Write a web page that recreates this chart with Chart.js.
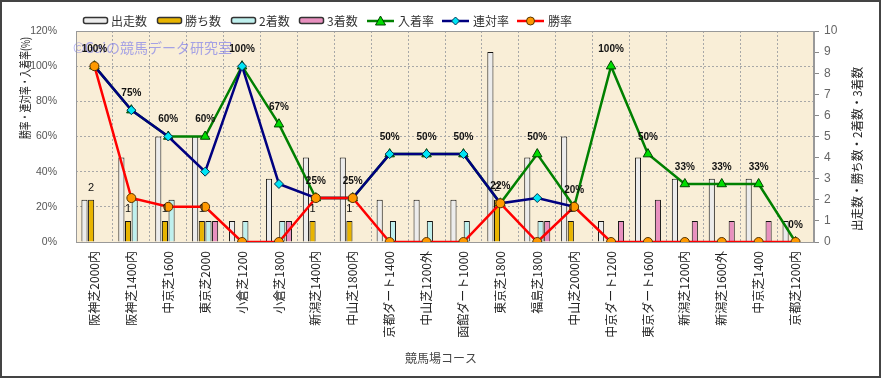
<!DOCTYPE html>
<html lang="ja">
<head>
<meta charset="utf-8">
<style>
  html, body { margin: 0; padding: 0; background: #fff; }
  canvas { display: block; }
</style>
<script src="https://cdn.jsdelivr.net/npm/chart.js@4/dist/chart.umd.min.js"></script>
</head>
<body>
<canvas id="chart" width="881" height="378"></canvas>
<script>
const courses = ['阪神芝2000内', '阪神芝1400内', '中京芝1600', '東京芝2000', '小倉芝1200', '小倉芝1800',
  '新潟芝1400内', '中山芝1800内', '京都ダート1400', '中山芝1200外', '函館ダート1000', '東京芝1800',
  '福島芝1800', '中山芝2000内', '中京ダート1200', '東京ダート1600', '新潟芝1200内', '新潟芝1600外',
  '中京芝1400', '京都芝1200内'];

const starts  = [2, 4, 5, 5, 1, 3, 4, 4, 2, 2, 2, 9, 4, 5, 1, 4, 3, 3, 3, 1];
const wins    = [2, 1, 1, 1, 0, 0, 1, 1, 0, 0, 0, 2, 0, 1, 0, 0, 0, 0, 0, 0];
const seconds = [0, 2, 2, 1, 1, 1, 0, 0, 1, 1, 1, 0, 1, 0, 0, 0, 0, 0, 0, 0];
const thirds  = [0, 0, 0, 1, 0, 1, 0, 0, 0, 0, 0, 0, 1, 0, 1, 2, 1, 1, 1, 0];

const placeRate = [100, 75, 60, 60, 100, 67, 25, 25, 50, 50, 50, 22, 50, 20, 100, 50, 33, 33, 33, 0];
const top2Rate  = [100, 75, 60, 40, 100, 33, 25, 25, 50, 50, 50, 22, 25, 20, null, null, null, null, null, null];
const winRate   = [100, 25, 20, 20, 0, 0, 25, 25, 0, 0, 0, 22, 0, 20, 0, 0, 0, 0, 0, 0];

const rateTicks = [0, 20, 40, 60, 80, 100, 120];
const countTicks = [0, 1, 2, 3, 4, 5, 6, 7, 8, 9, 10];

const JP = '"Noto Sans CJK JP", "Noto Sans", sans-serif';
const LAT = '"Liberation Sans", Arial, sans-serif';

const barStyle = {
  yAxisID: 'y1',
  borderColor: '#111',
  borderWidth: 1,
  categoryPercentage: 0.72,
  barPercentage: 0.92,
  order: 5
};

// draw a legend marker by hand
function marker(ctx, shape, x, y, fill, stroke) {
  ctx.beginPath();
  if (shape === 'triangle') {
    ctx.moveTo(x, y - 5);
    ctx.lineTo(x + 5, y + 4);
    ctx.lineTo(x - 5, y + 4);
    ctx.closePath();
  } else if (shape === 'diamond') {
    ctx.moveTo(x, y - 4);
    ctx.lineTo(x + 4, y);
    ctx.lineTo(x, y + 4);
    ctx.lineTo(x - 4, y);
    ctx.closePath();
  } else {
    ctx.arc(x, y, 4, 0, Math.PI * 2);
  }
  ctx.fillStyle = fill;
  ctx.fill();
  ctx.lineWidth = 1;
  ctx.strokeStyle = stroke;
  ctx.stroke();
}

const legendItems = [
  { kind: 'bar', x: 83, text: '出走数', fill: '#ececec' },
  { kind: 'bar', x: 157, text: '勝ち数', fill: '#e8b400' },
  { kind: 'bar', x: 231, text: '2着数', fill: '#bff0ee' },
  { kind: 'bar', x: 299, text: '3着数', fill: '#e890bf' },
  { kind: 'line', x: 367, text: '入着率', line: '#008000', shape: 'triangle', fill: '#00dd00', stroke: '#004400' },
  { kind: 'line', x: 442, text: '連対率', line: '#000080', shape: 'diamond', fill: '#00e5f5', stroke: '#003050' },
  { kind: 'line', x: 517, text: '勝率', line: '#ff0000', shape: 'circle', fill: '#ff9900', stroke: '#553300' }
];

function drawRotated(ctx, text, cx, cy, font, color, len) {
  ctx.save();
  ctx.font = font;
  ctx.fillStyle = color;
  ctx.textAlign = 'center';
  ctx.textBaseline = 'middle';
  ctx.translate(cx, cy);
  ctx.rotate(-Math.PI / 2);
  const w = ctx.measureText(text).width;
  if (len && w > len) ctx.scale(len / w, 1);
  ctx.fillText(text, 0, 0);
  ctx.restore();
}

const decor = {
  id: 'decor',
  beforeDraw(chart) {
    const { ctx, chartArea: a } = chart;
    ctx.save();
    ctx.fillStyle = '#fff';
    ctx.fillRect(0, 0, chart.width, chart.height);
    ctx.fillStyle = '#f9eed7';
    ctx.fillRect(a.left, a.top, a.right - a.left, a.bottom - a.top);
    ctx.restore();
  },
  beforeDatasetsDraw(chart) {
    const { ctx } = chart;
    ctx.save();
    ctx.font = '14px ' + JP;
    ctx.fillStyle = 'rgba(120, 120, 235, 0.65)';
    ctx.textBaseline = 'middle';
    ctx.fillText('©Gaiの競馬データ研究室', 73, 48);
    ctx.restore();
  },
  afterDatasetsDraw(chart) {
    const { ctx } = chart;
    ctx.save();
    ctx.fillStyle = '#111';
    ctx.textAlign = 'center';
    ctx.textBaseline = 'middle';
    ctx.font = 'bold 10px ' + LAT;
    chart.getDatasetMeta(4).data.forEach((pt, i) => {
      if (placeRate[i] == null) return;
      ctx.fillText(placeRate[i] + '%', pt.x, pt.y - 17);
    });
    ctx.font = '11px ' + LAT;
    chart.getDatasetMeta(1).data.forEach((bar, i) => {
      if (!wins[i]) return;
      ctx.fillText(String(wins[i]), bar.x, bar.y - 12);
    });
    ctx.restore();
  },
  afterDraw(chart) {
    const { ctx, chartArea: a } = chart;
    ctx.save();
    // plot frame
    ctx.strokeStyle = '#999';
    ctx.lineWidth = 1;
    ctx.strokeRect(a.left + 0.5, a.top + 0.5, a.right - a.left - 1, a.bottom - a.top);

    // legend
    ctx.font = '12px ' + JP;
    ctx.textBaseline = 'middle';
    legendItems.forEach(it => {
      const y = 21;
      if (it.kind === 'bar') {
        ctx.beginPath();
        ctx.roundRect(it.x + 0.5, y - 3.5, 24, 6, 2);
        ctx.fillStyle = it.fill;
        ctx.fill();
        ctx.lineWidth = 1.5;
        ctx.strokeStyle = '#333';
        ctx.stroke();
        ctx.fillStyle = '#333';
        ctx.fillText(it.text, it.x + 28, y);
      } else {
        ctx.beginPath();
        ctx.moveTo(it.x, y);
        ctx.lineTo(it.x + 27, y);
        ctx.lineWidth = 2.5;
        ctx.strokeStyle = it.line;
        ctx.stroke();
        marker(ctx, it.shape, it.x + 13.5, y, it.fill, it.stroke);
        ctx.fillStyle = '#333';
        ctx.fillText(it.text, it.x + 31, y);
      }
    });

    // axis titles
    drawRotated(ctx, '勝率・連対率・入着率(%)', 25, 88, '12px ' + JP, '#222', 102);
    drawRotated(ctx, '出走数・勝ち数・2着数・3着数', 857, 149, '12px ' + JP, '#222', 164);
    ctx.font = '12px ' + JP;
    ctx.fillStyle = '#444';
    ctx.textAlign = 'center';
    ctx.fillText('競馬場コース', 441, 358);

    // outer frame
    ctx.strokeStyle = '#444';
    ctx.lineWidth = 2;
    ctx.strokeRect(1, 1, chart.width - 2, chart.height - 2);
    ctx.restore();
  }
};

new Chart(document.getElementById('chart'), {
  type: 'bar',
  data: {
    labels: courses,
    datasets: [
      { ...barStyle, label: '出走数', data: starts, backgroundColor: '#ececec' },
      { ...barStyle, label: '勝ち数', data: wins, backgroundColor: '#e8b400' },
      { ...barStyle, label: '2着数', data: seconds, backgroundColor: '#bff0ee' },
      { ...barStyle, label: '3着数', data: thirds, backgroundColor: '#e890bf' },
      {
        type: 'line', label: '入着率', data: placeRate, yAxisID: 'y', order: 3,
        borderColor: '#008000', borderWidth: 2.5, tension: 0,
        pointStyle: 'triangle', pointRadius: 5.5,
        pointBackgroundColor: '#00dd00', pointBorderColor: '#004400', pointBorderWidth: 1
      },
      {
        type: 'line', label: '連対率', data: top2Rate, yAxisID: 'y', order: 2,
        borderColor: '#000080', borderWidth: 2.5, tension: 0, spanGaps: false,
        pointStyle: 'rectRot', pointRadius: 4.5,
        pointBackgroundColor: '#00e5f5', pointBorderColor: '#003050', pointBorderWidth: 1
      },
      {
        type: 'line', label: '勝率', data: winRate, yAxisID: 'y', order: 1,
        borderColor: '#ff0000', borderWidth: 2.5, tension: 0,
        pointStyle: 'circle', pointRadius: 4.5,
        pointBackgroundColor: '#ff9900', pointBorderColor: '#553300', pointBorderWidth: 1
      }
    ]
  },
  options: {
    responsive: false,
    animation: false,
    devicePixelRatio: 1,
    layout: { padding: { top: 31, left: 0, right: 0, bottom: 0 } },
    plugins: {
      legend: { display: false },
      tooltip: { enabled: false }
    },
    scales: {
      x: {
        offset: true,
        afterFit(s) { s.height = 136; },
        grid: { color: '#a8a8a8', drawTicks: false, offset: true },
        border: { display: false, dash: [2, 2] },
        ticks: {
          autoSkip: false, maxRotation: 90, minRotation: 90, padding: 9,
          color: '#222', font: { family: JP, size: 12 }
        }
      },
      y: {
        position: 'left',
        min: 0, max: 120,
        afterFit(s) { s.width = 76; },
        afterBuildTicks(s) { s.ticks = rateTicks.map(v => ({ value: v })); },
        grid: { color: '#a8a8a8', drawTicks: false },
        border: { display: false, dash: [2, 2] },
        ticks: {
          padding: 19, color: '#555', font: { family: LAT, size: 10.5 },
          callback: v => v + '%'
        }
      },
      y1: {
        position: 'right',
        min: 0, max: 10,
        afterFit(s) { s.width = 67; },
        afterBuildTicks(s) { s.ticks = countTicks.map(v => ({ value: v })); },
        grid: { drawOnChartArea: false, drawTicks: true, tickLength: 5, tickColor: '#888' },
        border: { display: true, color: '#999' },
        ticks: { padding: 5, color: '#666', font: { family: LAT, size: 12 } }
      }
    }
  },
  plugins: [decor]
});
</script>
</body>
</html>
